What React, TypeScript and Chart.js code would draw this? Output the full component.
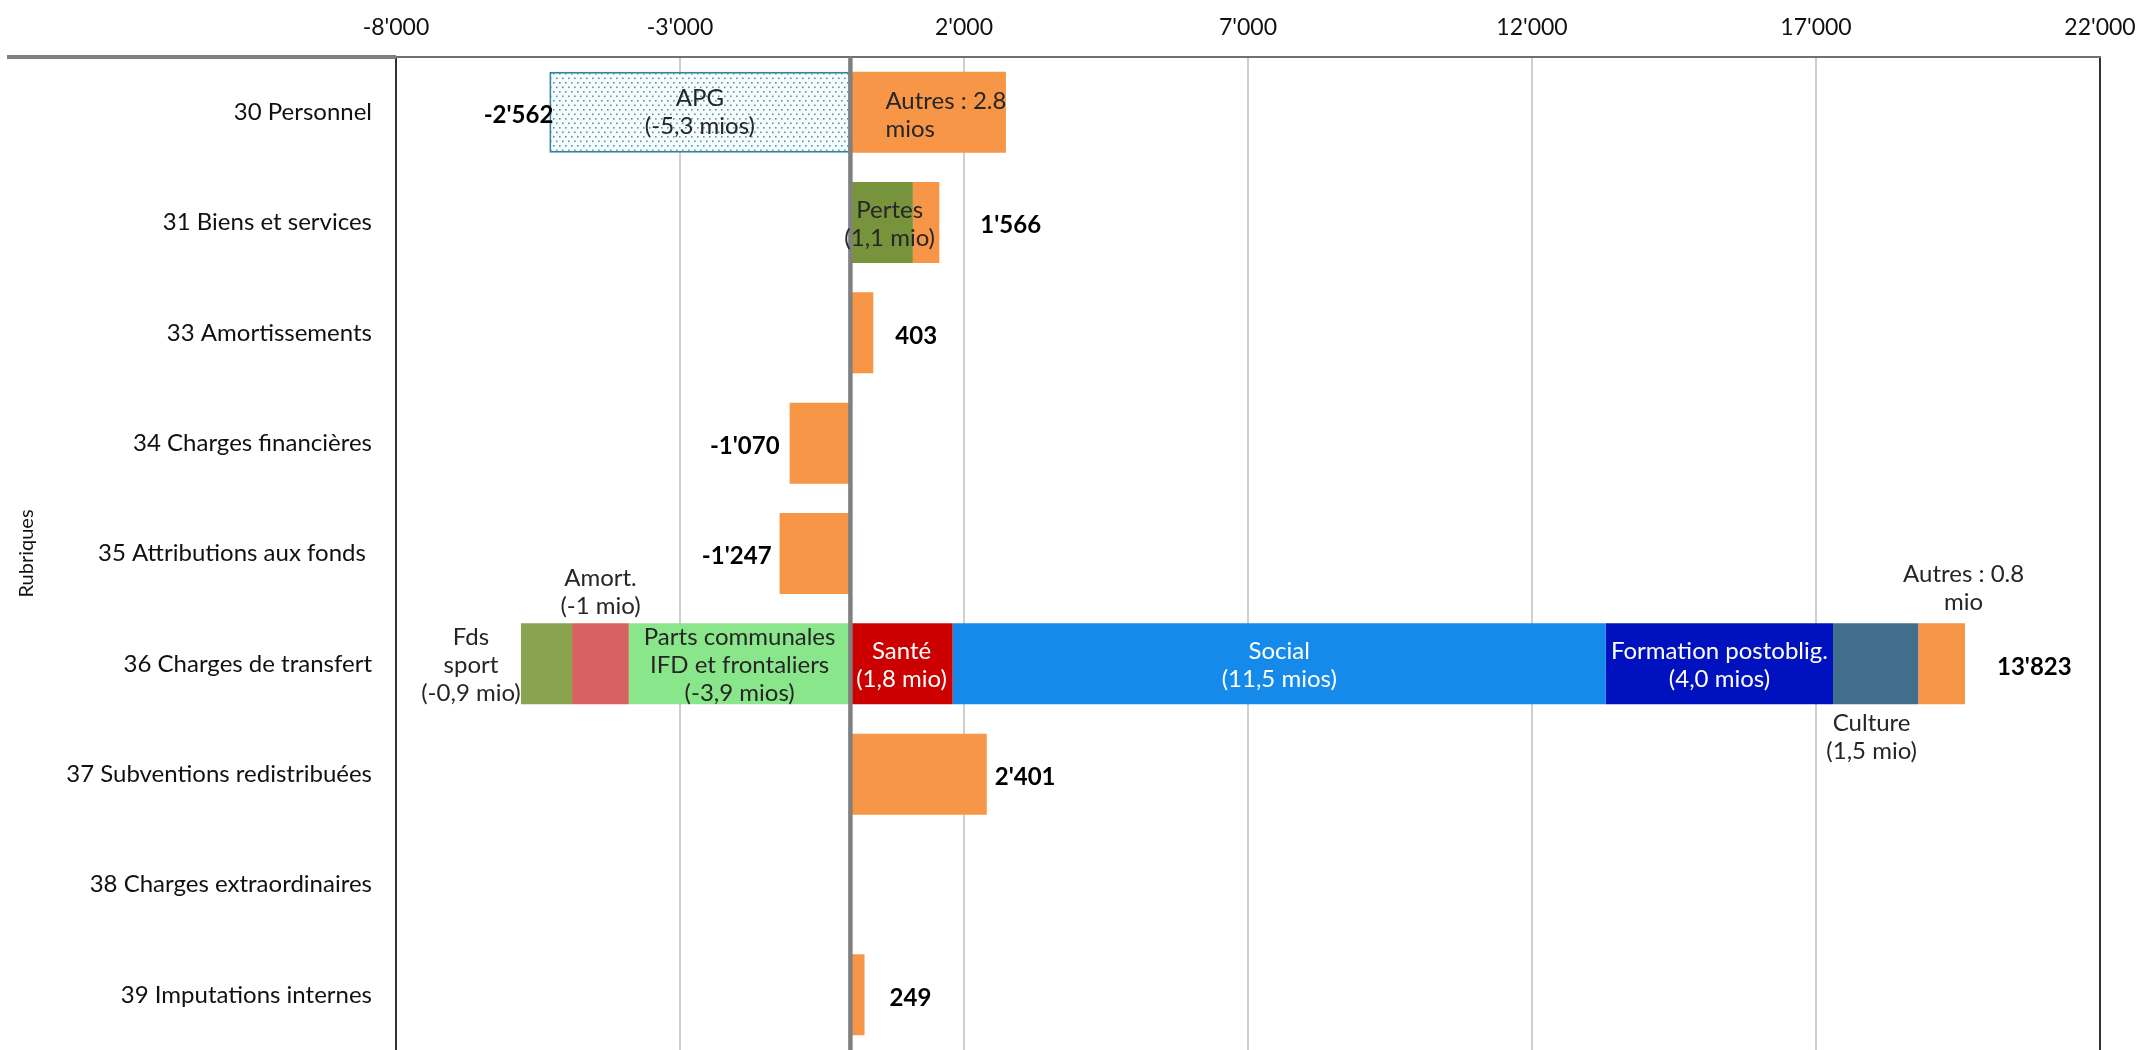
import React, { useEffect, useRef } from "react";
import { Chart, registerables } from "chart.js";
Chart.register(...registerables);

const categories = [
  "30 Personnel",
  "31 Biens et services",
  "33 Amortissements",
  "34 Charges financières",
  "35 Attributions aux fonds ",
  "36 Charges de transfert",
  "37 Subventions redistribuées",
  "38 Charges extraordinaires",
  "39 Imputations internes",
];

const apg = [-5300, null, null, null, null, null, null, null, null];
const pertes = [null, 1100, null, null, null, null, null, null, null];
const partsCommunales = [null, null, null, null, null, -3900, null, null, null];
const amort = [null, null, null, null, null, -1000, null, null, null];
const fdsSport = [null, null, null, null, null, -900, null, null, null];
const sante = [null, null, null, null, null, 1800, null, null, null];
const social = [null, null, null, null, null, 11500, null, null, null];
const formation = [null, null, null, null, null, 4000, null, null, null];
const culture = [null, null, null, null, null, 1500, null, null, null];
const autres = [2738, 466, 403, -1070, -1247, 823, 2401, null, 249];
const totals = [-2562, 1566, 403, -1070, -1247, 13823, 2401, null, 249];

const xMin = -8000;
const xMax = 22000;
const xStep = 5000;

const FONT = "Lato, 'Open Sans', 'DejaVu Sans', sans-serif";

function fmt(n: number): string {
  const s = Math.round(Math.abs(n)).toString().replace(/\B(?=(\d{3})+(?!\d))/g, "'");
  return (n < 0 ? "-" : "") + s;
}

// label layout (styles / offsets, not data)
type LabelSpec = {
  ds: number;
  cat: number;
  lines: string[];
  color: string;
  ax: "mid" | "left" | "right";
  dx: number;
  ay: "mid" | "top" | "bottom";
  dy: number;
  align: CanvasTextAlign;
};
const segLabels: LabelSpec[] = [
  { ds: 0, cat: 0, lines: ["APG", "(-5,3 mios)"], color: "#262626", ax: "mid", dx: 0, ay: "mid", dy: 0, align: "center" },
  { ds: 9, cat: 0, lines: ["Autres : 2.8", "mios"], color: "#262626", ax: "left", dx: 35, ay: "mid", dy: 3, align: "left" },
  { ds: 1, cat: 1, lines: ["Pertes", "(1,1 mio)"], color: "#262626", ax: "mid", dx: 8, ay: "mid", dy: 2, align: "center" },
  { ds: 4, cat: 5, lines: ["Fds", "sport", "(-0,9 mio)"], color: "#262626", ax: "left", dx: -50, ay: "mid", dy: 1, align: "center" },
  { ds: 3, cat: 5, lines: ["Amort.", "(-1 mio)"], color: "#262626", ax: "mid", dx: 0, ay: "top", dy: -31, align: "center" },
  { ds: 2, cat: 5, lines: ["Parts communales", "IFD et frontaliers", "(-3,9 mios)"], color: "#262626", ax: "mid", dx: 0, ay: "mid", dy: 1, align: "center" },
  { ds: 5, cat: 5, lines: ["Santé", "(1,8 mio)"], color: "#ffffff", ax: "mid", dx: 0, ay: "mid", dy: 1, align: "center" },
  { ds: 6, cat: 5, lines: ["Social", "(11,5 mios)"], color: "#ffffff", ax: "mid", dx: 0, ay: "mid", dy: 1, align: "center" },
  { ds: 7, cat: 5, lines: ["Formation postoblig.", "(4,0 mios)"], color: "#ffffff", ax: "mid", dx: 0, ay: "mid", dy: 1, align: "center" },
  { ds: 8, cat: 5, lines: ["Culture", "(1,5 mio)"], color: "#262626", ax: "mid", dx: -4, ay: "bottom", dy: 33, align: "center" },
  { ds: 9, cat: 5, lines: ["Autres : 0.8", "mio"], color: "#262626", ax: "mid", dx: 22, ay: "top", dy: -35, align: "center" },
];
const totalGaps = [-4, 41, 22, 10, 8, 32, 8, 0, 25];

function makePattern(): CanvasPattern | string {
  const c = document.createElement("canvas");
  c.width = 12;
  c.height = 9;
  const g = c.getContext("2d");
  if (!g) return "#e8f4f7";
  g.fillStyle = "#f7fbfc";
  g.fillRect(0, 0, 12, 9);
  g.fillStyle = "#4a9bb0";
  const dots = [
    [1, 1],
    [7, 1],
    [4, 5.5],
    [10, 5.5],
  ];
  dots.forEach(([x, y]) => g.fillRect(x, y, 1.6, 1.6));
  const p = g.createPattern(c, "repeat");
  return p || "#e8f4f7";
}

const overlay = {
  id: "overlay",
  afterDatasetsDraw(chart: any) {
    const ctx: CanvasRenderingContext2D = chart.ctx;
    const { left, right, top, bottom } = chart.chartArea;
    const xs = chart.scales.x;
    ctx.save();
    ctx.strokeStyle = "#000";
    ctx.lineWidth = 1.5;
    ctx.beginPath();
    ctx.moveTo(left, top);
    ctx.lineTo(left, bottom);
    ctx.moveTo(right, top);
    ctx.lineTo(right, bottom);
    ctx.stroke();
    ctx.strokeStyle = "#6f6f6f";
    ctx.lineWidth = 2;
    ctx.beginPath();
    ctx.moveTo(left, top);
    ctx.lineTo(right + 1, top);
    ctx.stroke();
    ctx.strokeStyle = "#808080";
    ctx.lineWidth = 4;
    ctx.beginPath();
    ctx.moveTo(7, top);
    ctx.lineTo(left, top);
    ctx.stroke();
    const x0 = xs.getPixelForValue(0);
    ctx.strokeStyle = "#808080";
    ctx.lineWidth = 4.5;
    ctx.beginPath();
    ctx.moveTo(x0, top);
    ctx.lineTo(x0, bottom);
    ctx.stroke();

    const lh = 28;
    ctx.textBaseline = "middle";
    ctx.font = `24px ${FONT}`;
    segLabels.forEach((s) => {
      const meta = chart.getDatasetMeta(s.ds);
      const el = meta.data[s.cat];
      if (!el) return;
      const p = el.getProps(["x", "y", "base", "height"], true);
      const lx = Math.min(p.x, p.base);
      const rx = Math.max(p.x, p.base);
      let ax = (lx + rx) / 2;
      if (s.ax === "left") ax = lx;
      if (s.ax === "right") ax = rx;
      let ay = p.y;
      if (s.ay === "top") ay = p.y - p.height / 2;
      if (s.ay === "bottom") ay = p.y + p.height / 2;
      const cx = ax + s.dx;
      const cy = ay + s.dy;
      ctx.fillStyle = s.color;
      ctx.textAlign = s.align;
      const n = s.lines.length;
      s.lines.forEach((t, i) => {
        ctx.fillText(t, cx, cy + (i - (n - 1) / 2) * lh);
      });
    });

    ctx.font = `bold 24px ${FONT}`;
    ctx.fillStyle = "#000";
    const ys = chart.scales.y;
    totals.forEach((t, i) => {
      if (t === null || t === undefined) return;
      let minV = 0;
      let maxV = 0;
      chart.data.datasets.forEach((d: any) => {
        const v = d.data[i];
        if (typeof v !== "number") return;
        if (v < 0) minV += v;
        else maxV += v;
      });
      const y = ys.getPixelForValue(i) + 3;
      if (t < 0) {
        ctx.textAlign = "right";
        ctx.fillText(fmt(t), xs.getPixelForValue(minV) - totalGaps[i], y);
      } else {
        ctx.textAlign = "left";
        ctx.fillText(fmt(t), xs.getPixelForValue(maxV) + totalGaps[i], y);
      }
    });
    ctx.restore();
  },
};

export default function App() {
  const ref = useRef<HTMLCanvasElement | null>(null);
  useEffect(() => {
    document.body.style.margin = "0";
    document.body.style.overflow = "hidden";
    const canvas = ref.current;
    if (!canvas) return;
    const pattern = makePattern();
    const orange = "#f79646";
    const ds = (label: string, data: (number | null)[], color: any, extra: any = {}) => ({
      label,
      data,
      backgroundColor: color,
      borderWidth: 0,
      categoryPercentage: 1,
      barPercentage: 0.734,
      ...extra,
    });
    const chart = new Chart(canvas, {
      type: "bar",
      data: {
        labels: categories,
        datasets: [
          ds("APG", apg, pattern, { borderColor: "#31859c", borderWidth: 2, borderSkipped: false }),
          ds("Pertes", pertes, "#77933c"),
          ds("Parts communales IFD et frontaliers", partsCommunales, "#8ae68a"),
          ds("Amort.", amort, "#d86262"),
          ds("Fds sport", fdsSport, "#88a44e"),
          ds("Santé", sante, "#cc0000"),
          ds("Social", social, "#168aeb"),
          ds("Formation postoblig.", formation, "#0012c0"),
          ds("Culture", culture, "#42708c"),
          ds("Autres", autres, orange),
        ] as any,
      },
      options: {
        indexAxis: "y",
        animation: false,
        responsive: false,
        maintainAspectRatio: false,
        layout: { padding: { left: 0, right: 42, top: 0, bottom: 0 } },
        plugins: {
          legend: { display: false },
          tooltip: { enabled: false },
          title: { display: false },
        },
        scales: {
          x: {
            type: "linear",
            position: "top",
            stacked: true,
            min: xMin,
            max: xMax,
            afterFit: (s: any) => {
              s.height = 57;
              s.paddingLeft = 0;
              s.paddingRight = 0;
            },
            ticks: {
              stepSize: xStep,
              padding: 16,
              color: "#111",
              font: { family: FONT, size: 23 },
              callback: (v: any) => fmt(Number(v)),
            },
            grid: { color: "#cfcfcf", lineWidth: 2, drawTicks: false },
            border: { display: false },
          },
          y: {
            type: "category",
            stacked: true,
            afterFit: (s: any) => {
              s.width = 396;
              s.paddingTop = 0;
              s.paddingBottom = 0;
            },
            grid: { display: false, drawTicks: false },
            border: { display: false },
            ticks: {
              padding: 24,
              color: "#111",
              font: { family: FONT, size: 24 },
            },
            title: {
              display: true,
              text: "Rubriques",
              color: "#111",
              font: { family: FONT, size: 20 },
              padding: { top: 15, bottom: 0 },
            },
          },
        },
      },
      plugins: [overlay],
    });
    return () => chart.destroy();
  }, []);
  return (
    <div style={{ width: 2142, height: 1050 }}>
      <canvas ref={ref} width={2142} height={1050} style={{ display: "block" }} />
    </div>
  );
}
